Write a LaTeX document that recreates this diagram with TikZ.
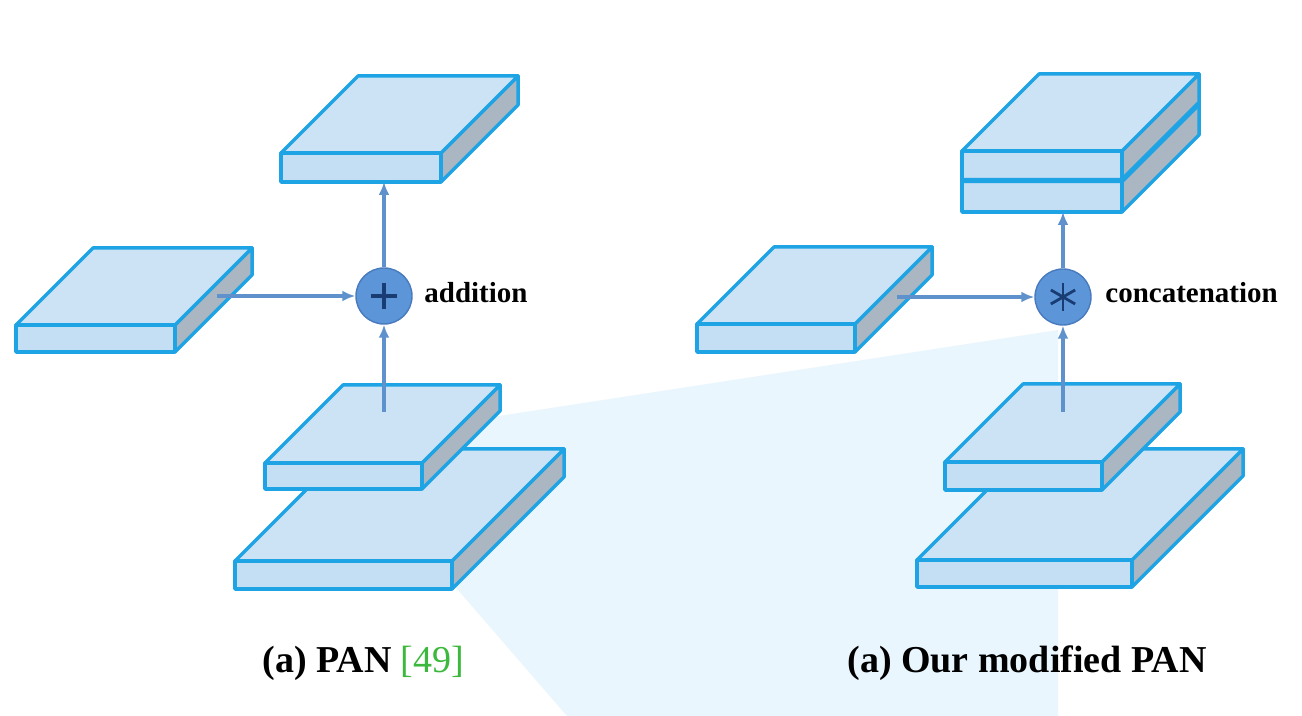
\documentclass[tikz,border=0pt]{standalone}
\usepackage{fontspec}
\setmainfont{Liberation Serif}
\usetikzlibrary{arrows.meta,calc}
\definecolor{slabline}{RGB}{30,163,228}
\definecolor{topface}{RGB}{204,227,246}
\definecolor{frontface}{RGB}{196,222,243}
\definecolor{sideface}{RGB}{170,182,194}
\definecolor{arrowcol}{RGB}{95,145,205}
\definecolor{circfill}{RGB}{92,150,216}
\definecolor{circline}{RGB}{72,122,190}
\definecolor{opcol}{RGB}{25,60,115}
\definecolor{wedge}{RGB}{234,246,253}
\definecolor{citegreen}{RGB}{60,185,60}
\newcommand\drawslab[5]{% x0 y0 w t d
  \filldraw[slabedge,fill=sideface] ({#1+#3},{#2}) -- ({#1+#3+#5},{#2-#5}) -- ({#1+#3+#5},{#2-#5+#4}) -- ({#1+#3},{#2+#4}) -- cycle;
  \filldraw[slabedge,fill=topface] (#1,#2) -- ({#1+#3},#2) -- ({#1+#3+#5},{#2-#5}) -- ({#1+#5},{#2-#5}) -- cycle;
  \filldraw[slabedge,fill=frontface] (#1,#2) rectangle ({#1+#3},{#2+#4});
}
\tikzset{
  slabedge/.style={draw=slabline,line width=1.75pt,line join=round},
  conn/.style={draw=arrowcol,line width=1.8pt,-{Latex[length=6.5pt,width=5.5pt]}},
  opnode/.style={circle,fill=circfill,draw=circline,line width=0.7pt,minimum size=28pt,inner sep=0pt},
  oplabel/.style={anchor=base west,inner sep=0pt,font=\fontsize{14.5pt}{17pt}\selectfont\bfseries},
  caption/.style={anchor=base west,inner sep=0pt,font=\fontsize{19pt}{23pt}\selectfont\bfseries}
}
\begin{document}
\begin{tikzpicture}[x=0.5pt,y=-0.5pt]
\useasboundingbox (0,0) rectangle (1302,716);
\fill[white] (0,0) rectangle (1302,716);
% faint background wedge
\fill[wedge] (330,442) -- (1058,330) -- (1058,716) -- (567,716) -- (445,575) -- cycle;

% ---------- left: PAN ----------
\drawslab{281}{153}{160}{29}{77}
\drawslab{16}{325}{159}{27}{77}
\drawslab{235}{561}{217}{28}{112}
\drawslab{265}{463}{157}{26}{78}
\node[opnode] (add) at (384,296) {};
\draw[opcol,line width=2pt] ($(add.center)+(-13,0)$) -- ($(add.center)+(13,0)$);
\draw[opcol,line width=2pt] ($(add.center)+(0,-13)$) -- ($(add.center)+(0,13)$);
\coordinate (topL) at (384,182);
\coordinate (midL) at (217,296);
\coordinate (lowL) at (384,412);
\draw[conn] (add) -- (topL);
\draw[conn] (midL) -- (add);
\draw[conn] (lowL) -- (add);
\node[oplabel] (addlab) at (424,303) {addition};
\node[caption] (capL) at (262,672) {(a) PAN \textcolor{citegreen}{\mdseries[49]}};

% ---------- right: modified PAN ----------
\drawslab{962}{151}{160}{61}{77}
\draw[slabedge,line width=2.6pt] (962,180.5) -- (1122,180.5) -- (1199,103.5);
\drawslab{697}{324}{158}{28}{77}
\drawslab{917}{560}{215}{27}{111}
\drawslab{945}{462}{157}{28}{78}
\node[opnode] (cat) at (1063,297) {};
\foreach \a in {90,30,150}{
  \draw[opcol,line width=1.4pt] ($(cat.center)+(\a:14)$) -- ($(cat.center)+(\a+180:14)$);
}
\coordinate (topR) at (1063,212);
\coordinate (midR) at (897,297);
\coordinate (lowR) at (1063,412);
\draw[conn] (cat) -- (topR);
\draw[conn] (midR) -- (cat);
\draw[conn] (lowR) -- (cat);
\node[oplabel] (catlab) at (1105,303) {concatenation};
\node[caption] (capR) at (847,672) {(a) Our modified PAN};
\end{tikzpicture}
\end{document}
